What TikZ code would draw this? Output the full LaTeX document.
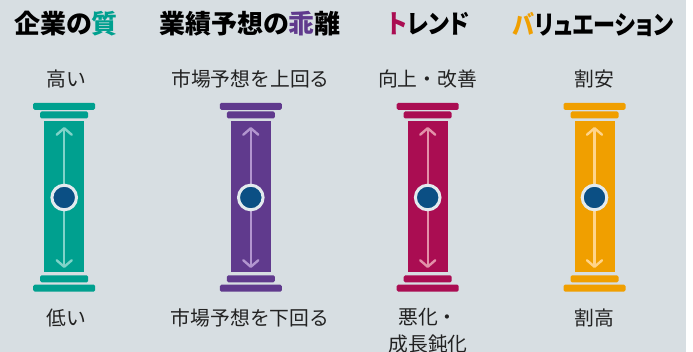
\documentclass[tikz,border=0pt]{standalone}
\usepackage{fontspec}
\usetikzlibrary{arrows.meta}
\newfontfamily\jp{Noto Sans CJK JP}
\newfontfamily\jpt[RawFeature=+palt]{Noto Sans CJK JP}
\definecolor{bg}{HTML}{D7DEE2}
\definecolor{cteal}{HTML}{00A08F}
\definecolor{cteall}{HTML}{80D3C9}
\definecolor{cpurple}{HTML}{603A8D}
\definecolor{cpurplel}{HTML}{B296CF}
\definecolor{ccrimson}{HTML}{AA0D52}
\definecolor{ccrimsonl}{HTML}{E391A9}
\definecolor{corange}{HTML}{F09F00}
\definecolor{corangel}{HTML}{FFD48A}
\definecolor{cdot}{HTML}{0B4F84}
\definecolor{cring}{HTML}{E3EAEE}
\definecolor{ctext}{HTML}{222222}
\tikzset{
  title/.style={font=\jpt\bfseries\fontsize{26}{30}\selectfont, text=black, inner sep=0pt},
  lab/.style={font=\jp\fontsize{19.8}{27}\selectfont, text=ctext, inner sep=0pt, align=center},
  capbar/.style={rectangle, rounded corners=1.5pt, minimum height=7pt, inner sep=0pt, draw=none},
  shaft/.style={rectangle, minimum width=40pt, minimum height=151.3pt, inner sep=0pt, draw=none},
  dot/.style={circle, minimum size=24.6pt, inner sep=0pt, fill=cdot, draw=cring, line width=3pt},
  arr/.style={line width=2.4pt, {Straight Barb[length=6.5pt,width=15pt,line cap=round,line join=round]}-{Straight Barb[length=6.5pt,width=15pt,line cap=round,line join=round]}}
}
\newcommand\mypillar[4]{%
  \node[capbar, minimum width=62pt, fill=#3] (#1tca) at (#2,106.3) {};
  \node[capbar, minimum width=48pt, fill=#3] (#1tcb) at (#2,115) {};
  \node[shaft, fill=#3] (#1sh) at (#2,196.7) {};
  \node[capbar, minimum width=48pt, fill=#3] (#1bcb) at (#2,278.8) {};
  \node[capbar, minimum width=62pt, fill=#3] (#1bca) at (#2,288.2) {};
  \coordinate (#1up) at (#2,127);
  \coordinate (#1dn) at (#2,268);
  \draw[arr, draw=#4] (#1up) -- (#1dn);
  \node[dot] (#1dot) at (#2,197.5) {};
}
\begin{document}
\begin{tikzpicture}[x=1pt,y=-1pt]
\useasboundingbox (0,0) rectangle (693,352);
\fill[white] (0,0) rectangle (693,352);
\fill[bg] (0,0) rectangle (686,352);
\node[title] (t1) at (66,24) {企業の\textcolor{cteal}{質}};
\node[title] (t2) at (250,24) {業績予想の\textcolor{cpurple}{乖}離};
\node[title] (t3) at (429,24) {\scalebox{0.88}[1]{\textcolor{ccrimson}{ト}レンド}};
\node[title] (t4) at (593,24) {\scalebox{0.85}[1]{\textcolor{corange}{バ}リュエーション}};
\mypillar{pa}{64.2}{cteal}{cteall}
\mypillar{pb}{250.8}{cpurple}{cpurplel}
\mypillar{pc}{427.7}{ccrimson}{ccrimsonl}
\mypillar{pd}{594.5}{corange}{corangel}
\node[lab] (h1) at (66.5,78.5) {高い};
\node[lab] (h2) at (250.5,78.5) {市場予想を上回る};
\node[lab] (h3) at (427.5,78.5) {向上・改善};
\node[lab] (h4) at (594,78.5) {割安};
\node[lab] (l1) at (66,318) {低い};
\node[lab] (l2) at (250,318) {市場予想を下回る};
\node[lab] (l3) at (428,330.5) {悪化・\\成長鈍化};
\node[lab] (l4) at (594,318) {割高};
\end{tikzpicture}
\end{document}
